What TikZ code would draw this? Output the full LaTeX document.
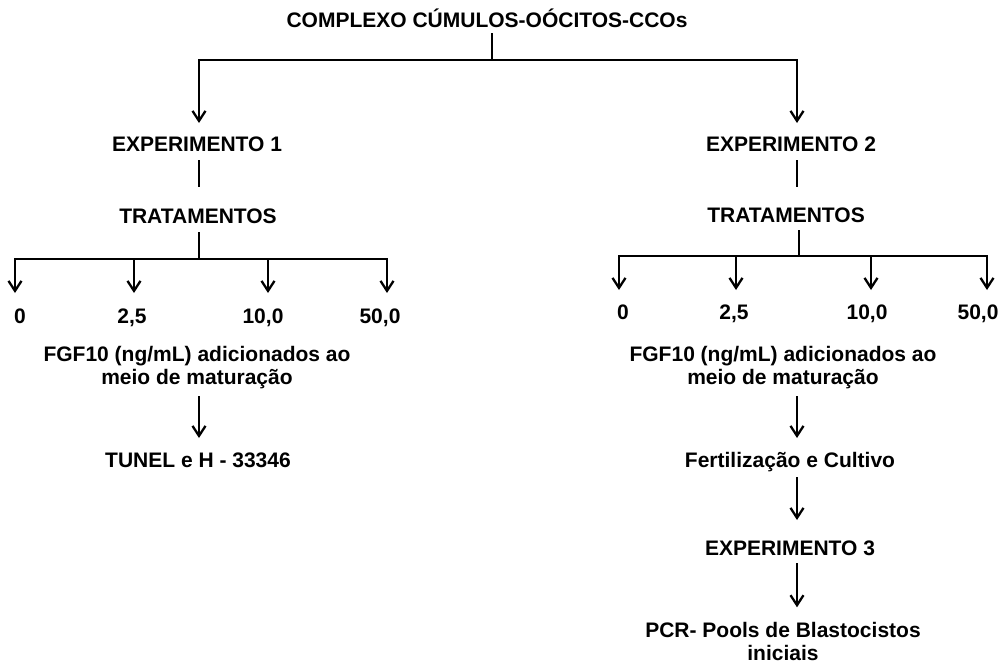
\documentclass[tikz,border=0pt]{standalone}
\usepackage{fontspec}
\setmainfont{Liberation Sans}
\usetikzlibrary{arrows.meta}
\tikzstyle{txt}=[font=\bfseries\fontsize{21}{22.5}\selectfont, inner sep=0pt, outer sep=0pt, anchor=base, text height=15pt, text depth=0pt]
\tikzstyle{txtm}=[font=\bfseries\fontsize{21}{22.5}\selectfont, inner sep=0pt, outer sep=0pt, anchor=base, align=center]
\tikzstyle{linha}=[line width=2.3pt]
\tikzstyle{seta}=[linha, -{Straight Barb[length=10pt,width=13pt]}]
\begin{document}
\begin{tikzpicture}[x=1pt, y=-1pt]
    \useasboundingbox (0,0) rectangle (1006,664);
    % topo
    \node[txt] (ccos) at (487,27) {COMPLEXO CÚMULOS-OÓCITOS-CCOs};
    \coordinate (topo) at (492,60);
    \coordinate (c1) at (199,0);
    \coordinate (c2) at (797,0);
    \node[txt] (exp1) at (197,151) {EXPERIMENTO 1};
    \node[txt] (exp2) at (791,151) {EXPERIMENTO 2};
    \draw[linha, shorten <=6pt] (ccos.south -| topo) -- (topo);
    \draw[seta, shorten >=13pt] (topo) -| (exp1.north -| c1);
    \draw[seta, shorten >=13pt] (topo) -| (exp2.north -| c2);
    % tratamentos
    \node[txt] (trat1) at (198,223) {TRATAMENTOS};
    \node[txt] (trat2) at (786,222) {TRATAMENTOS};
    \draw[linha, shorten <=9pt, shorten >=21pt] (exp1.south -| c1) -- (trat1.north -| c1);
    \draw[linha, shorten <=9pt, shorten >=20pt] (exp2.south -| c2) -- (trat2.north -| c2);
    \coordinate (b1) at (199,259);
    \coordinate (b2) at (799,256);
    \draw[linha, shorten <=9pt] (trat1.south -| b1) -- (b1);
    \draw[linha, shorten <=8pt] (trat2.south -| b2) -- (b2);
    % doses
    \foreach \ax/\nx/\v [count=\i] in {15/20/0, 134/132/{2,5}, 268/263/{10,0}, 387/380/{50,0}} {
        \node[txt] (na\i) at (\nx,323) {\v};
        \coordinate (sa\i) at (\ax,259);
        \draw[seta, shorten >=15pt] (b1) -- (sa\i) -- (na\i.north -| sa\i);
    }
    \foreach \ax/\nx/\v [count=\i] in {619/623/0, 736/734/{2,5}, 871/867/{10,0}, 987/978/{50,0}} {
        \node[txt] (nb\i) at (\nx,319) {\v};
        \coordinate (sb\i) at (\ax,256);
        \draw[seta, shorten >=14pt] (b2) -- (sb\i) -- (nb\i.north -| sb\i);
    }
    % experimento 1
    \node[txtm] (fgf1) at (197,384) {FGF10 (ng/mL) adicionados ao\\meio de maturação};
    \node[txt] (tunel) at (198,467) {TUNEL e H - 33346};
    \draw[seta, shorten <=8pt, shorten >=14pt] (fgf1.south -| c1) -- (tunel.north -| c1);
    % experimento 2 e 3
    \node[txtm] (fgf2) at (783,384) {FGF10 (ng/mL) adicionados ao\\meio de maturação};
    \node[txt] (fert) at (790,467) {Fertilização e Cultivo};
    \draw[seta, shorten <=8pt, shorten >=14pt] (fgf2.south -| c2) -- (fert.north -| c2);
    \node[txt] (exp3) at (790,555) {EXPERIMENTO 3};
    \draw[seta, shorten <=10pt, shorten >=20pt] (fert.south -| c2) -- (exp3.north -| c2);
    \node[txtm] (pcr) at (783,660) {PCR- Pools de Blastocistos\\iniciais};
    \draw[seta, shorten <=8pt, shorten >=15pt] (exp3.south -| c2) -- (pcr.north -| c2);
\end{tikzpicture}
\end{document}
